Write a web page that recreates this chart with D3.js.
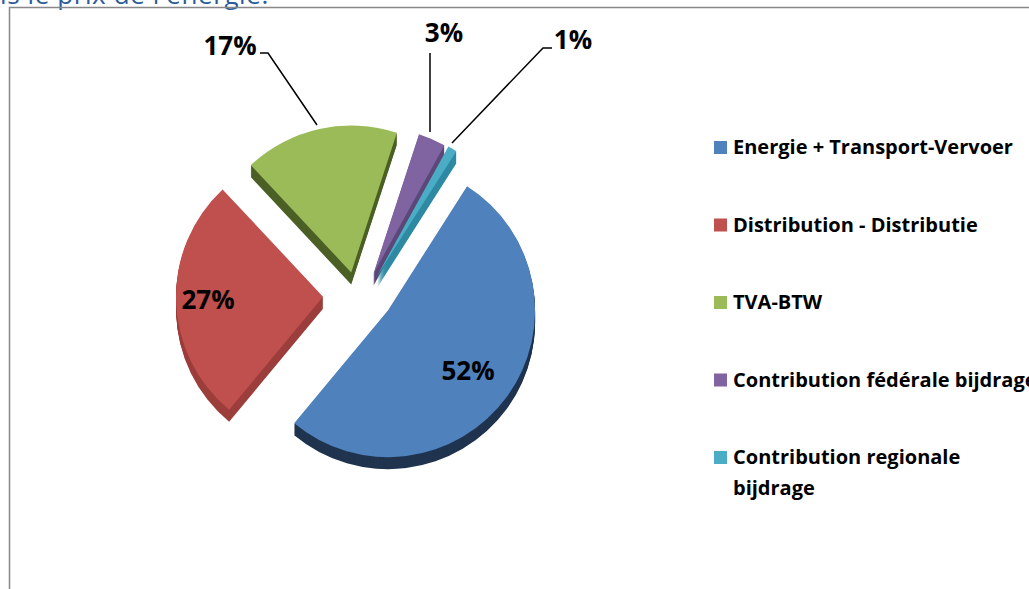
<!DOCTYPE html>
<html>
<head>
<meta charset="utf-8">
<script src="https://cdn.jsdelivr.net/npm/d3@7"></script>
<style>
  body { margin: 0; background: #fff; overflow: hidden; }
  text { font-family: "Open Sans", Lato, sans-serif; }
</style>
</head>
<body>
<div id="vis"></div>
<script>
// data
const CATEGORIES = ["Energie + Transport-Vervoer", "Distribution - Distributie", "TVA-BTW",
                    "Contribution fédérale bijdrage", "Contribution regionale bijdrage"];
const VALUES = [52, 27, 17, 3, 1];
const LABELS = ["52%", "27%", "17%", "3%", "1%"];
const COLORS = ["#4f81bd", "#c0504d", "#9bbb59", "#8064a2", "#4bacc6"];
const SIDE_COLORS = ["#20344f", "#9c3f3c", "#4c6026", "#5c4878", "#2e8aa3"];

// frame
const FRAME_WIDTH = 1029;
const FRAME_HEIGHT = 589;
const CENTER = {x: 359, y: 296};
const RADIUS = 147;
const EXPLODE = 36;
const TILT = 0.67;   // vertical share of the explode offset
const DEPTH = 12;
const START = 32.5 * Math.PI / 180;

const svg = d3.select("#vis")
              .append("svg")
                .attr("width", FRAME_WIDTH)
                .attr("height", FRAME_HEIGHT);

// cut heading of the page above
svg.append("text")
    .attr("x", 0)
    .attr("y", 4)
    .attr("font-size", "26px")
    .attr("letter-spacing", "0.6px")
    .attr("fill", "#2b5c99")
    .text("is le prix de l'énergie.");

// chart border
svg.append("rect")
    .attr("x", 9.5)
    .attr("y", 7.5)
    .attr("width", 1200)
    .attr("height", 800)
    .attr("fill", "none")
    .attr("stroke", "#888")
    .attr("stroke-width", 1.5);

const pie = d3.pie()
              .sort(null)
              .value((d) => d)
              .startAngle(START)
              .endAngle(START + 2 * Math.PI);

const arc = d3.arc().innerRadius(0).outerRadius(RADIUS);
const arcs = pie(VALUES);

function offset(a) {
    const mid = (a.startAngle + a.endAngle) / 2;
    return {x: CENTER.x + EXPLODE * Math.sin(mid),
            y: CENTER.y - EXPLODE * Math.cos(mid) * TILT};
}

// side of each slice: stacked copies pushed down
const sides = svg.append("g");
arcs.forEach((a, i) => {
    const o = offset(a);
    for (let d = DEPTH; d >= 1; d--) {
        sides.append("path")
            .attr("d", arc(a))
            .attr("transform", "translate(" + o.x + "," + (o.y + d) + ")")
            .attr("fill", SIDE_COLORS[i]);
    }
});

// top faces
svg.append("g")
    .selectAll("path")
    .data(arcs)
    .enter()
    .append("path")
      .attr("d", arc)
      .attr("transform", (a) => { const o = offset(a); return "translate(" + o.x + "," + o.y + ")"; })
      .attr("fill", (a, i) => COLORS[i]);

// labels inside the big slices
const inside = [{i: 0, x: 468, y: 380}, {i: 1, x: 208, y: 309}];
// labels outside with leader lines
const outside = [
    {i: 2, x: 230, y: 55, line: [[260, 53], [268, 53], [317, 125]]},
    {i: 3, x: 444, y: 42, line: [[430, 53], [430, 132]]},
    {i: 4, x: 573, y: 49, line: [[552, 48], [543, 48], [452, 143]]}
];

svg.append("g")
    .selectAll("path")
    .data(outside)
    .enter()
    .append("path")
      .attr("d", (d) => d3.line()(d.line))
      .attr("fill", "none")
      .attr("stroke", "#000")
      .attr("stroke-width", 1.5);

svg.append("g")
    .selectAll("text")
    .data(inside.concat(outside))
    .enter()
    .append("text")
      .attr("x", (d) => d.x)
      .attr("y", (d) => d.y)
      .attr("text-anchor", "middle")
      .attr("font-size", "26px")
      .attr("font-weight", "bold")
      .attr("fill", "#000")
      .text((d) => LABELS[d.i]);

// legend
const LEGEND_X = 714;
const LEGEND_Y = 147;
const LEGEND_STEP = 77.5;
const legend = svg.append("g");

CATEGORIES.forEach((c, i) => {
    const cy = LEGEND_Y + i * LEGEND_STEP;
    legend.append("rect")
        .attr("x", LEGEND_X)
        .attr("y", cy - 6)
        .attr("width", 13)
        .attr("height", 13)
        .attr("fill", COLORS[i]);
    const words = (i == 4) ? ["Contribution regionale", "bijdrage"] : [c];
    words.forEach((w, j) => {
        legend.append("text")
            .attr("x", LEGEND_X + 19)
            .attr("y", cy + 7 + j * 31)
            .attr("font-size", "20px")
            .attr("font-weight", "bold")
            .attr("fill", "#000")
            .text(w);
    });
});
</script>
</body>
</html>
